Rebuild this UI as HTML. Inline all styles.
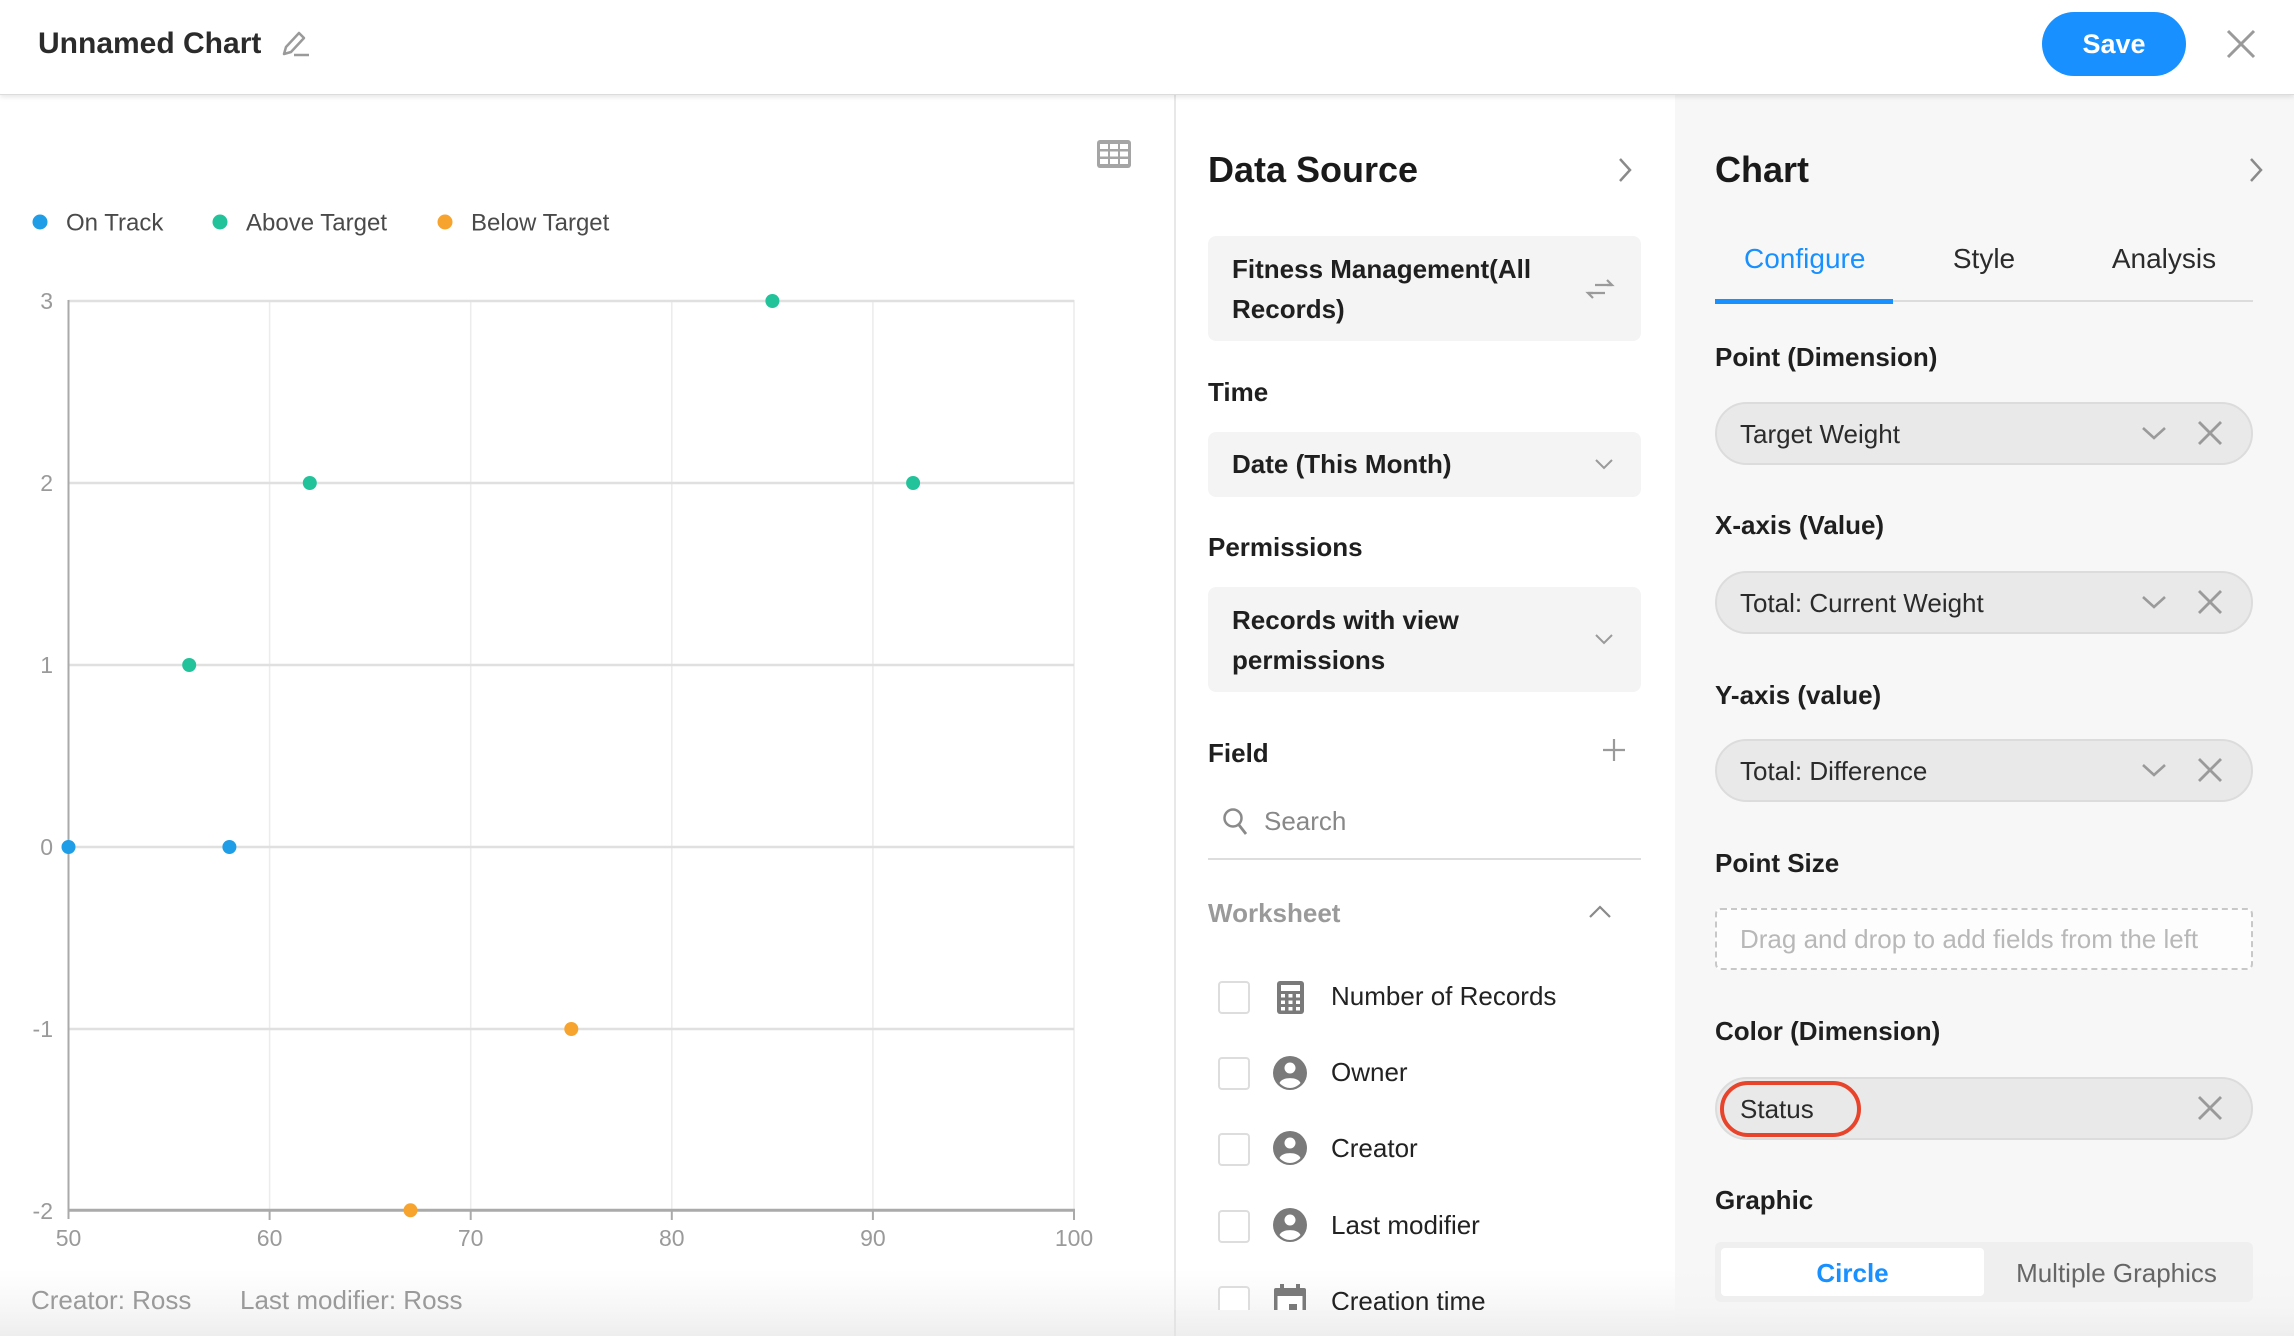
<!DOCTYPE html>
<html><head><meta charset="utf-8"><style>
html,body{margin:0;padding:0;}
body{width:2294px;height:1336px;overflow:hidden;position:relative;background:#fff;font-family:"Liberation Sans",Arial,sans-serif;}
.t{position:absolute;white-space:nowrap;line-height:1;}
.b{font-weight:bold;}
.hdr{position:absolute;left:0;top:0;width:2294px;height:94px;background:#fff;border-bottom:1px solid #dcdcdc;box-shadow:0 2px 5px rgba(0,0,0,0.10);z-index:5;}
.box{position:absolute;background:#f4f4f4;border-radius:8px;}
.pill{position:absolute;left:1715px;width:534px;height:59px;background:#e9e9e9;border:2px solid #dcdcdc;border-radius:32px;}
.ico{position:absolute;}
</style></head><body>

<!-- panels backgrounds -->
<div style="position:absolute;left:1675px;top:0;width:619px;height:1336px;background:#f7f7f7;"></div>
<!-- bottom background gradient (behind content) -->
<div style="position:absolute;left:0;top:1270px;width:2294px;height:66px;background:linear-gradient(to bottom, rgba(244,244,244,0) 0%, rgba(244,244,244,0.8) 60%, rgba(238,238,238,1) 100%);"></div>
<div style="position:absolute;left:1174px;top:94px;width:2px;height:1242px;background:#e8e8e8;"></div>

<!-- header -->
<div class="hdr">
  <div class="t b" style="left:38px;top:29px;font-size:30px;color:#2b2b2b;">Unnamed Chart</div>
  <svg class="ico" style="left:280px;top:30px" width="32" height="28" viewBox="0 0 32 28">
    <path d="M4 24 L6 17 L19 3 L24 8 L11 22 Z" fill="none" stroke="#9a9a9a" stroke-width="2.5" stroke-linejoin="round"/>
    <line x1="14" y1="25" x2="29" y2="25" stroke="#9a9a9a" stroke-width="2.5"/>
  </svg>
  <div style="position:absolute;left:2042px;top:12px;width:144px;height:64px;border-radius:32px;background:#1890ff;color:#fff;font-weight:bold;font-size:27px;display:flex;align-items:center;justify-content:center;">Save</div>
  <svg class="ico" style="left:2226px;top:29px" width="30" height="30" viewBox="0 0 30 30">
    <line x1="2" y1="2" x2="28" y2="28" stroke="#9a9a9a" stroke-width="3"/>
    <line x1="28" y1="2" x2="2" y2="28" stroke="#9a9a9a" stroke-width="3"/>
  </svg>
</div>

<!-- chart area -->
<svg class="ico" style="left:1097px;top:140px" width="34" height="28" viewBox="0 0 34 28">
  <rect x="0" y="0" width="34" height="28" rx="3" fill="#a5a5a5"/>
  <g fill="#fff">
    <rect x="3" y="4" width="8" height="5"/><rect x="13" y="4" width="8" height="5"/><rect x="23" y="4" width="8" height="5"/>
    <rect x="3" y="11.5" width="8" height="5"/><rect x="13" y="11.5" width="8" height="5"/><rect x="23" y="11.5" width="8" height="5"/>
    <rect x="3" y="19" width="8" height="5"/><rect x="13" y="19" width="8" height="5"/><rect x="23" y="19" width="8" height="5"/>
  </g>
</svg>

<svg style="position:absolute;left:0;top:0" width="1174" height="1336">
  <!-- legend -->
  <circle cx="40" cy="222" r="7.5" fill="#1f9de6"/>
  <circle cx="220" cy="222" r="7.5" fill="#22c39a"/>
  <circle cx="445" cy="222" r="7.5" fill="#f7a42f"/>
  <g font-family="Liberation Sans, Arial, sans-serif" font-size="24" fill="#4a4a4a">
    <text x="66" y="230.5">On Track</text>
    <text x="246" y="230.5">Above Target</text>
    <text x="471" y="230.5">Below Target</text>
  </g>
  <!-- vertical grid -->
  <g stroke="#ececec" stroke-width="1.5">
    <line x1="269.6" y1="300" x2="269.6" y2="1209"/>
    <line x1="470.7" y1="300" x2="470.7" y2="1209"/>
    <line x1="671.8" y1="300" x2="671.8" y2="1209"/>
    <line x1="872.9" y1="300" x2="872.9" y2="1209"/>
    <line x1="1074" y1="300" x2="1074" y2="1209"/>
  </g>
  <!-- horizontal grid -->
  <g stroke="#e0e0e0" stroke-width="2.5">
    <line x1="68.5" y1="301" x2="1074" y2="301"/>
    <line x1="68.5" y1="483" x2="1074" y2="483"/>
    <line x1="68.5" y1="665" x2="1074" y2="665"/>
    <line x1="68.5" y1="847" x2="1074" y2="847"/>
    <line x1="68.5" y1="1029" x2="1074" y2="1029"/>
  </g>
  <!-- axes -->
  <line x1="68.5" y1="300" x2="68.5" y2="1219" stroke="#aaaaaa" stroke-width="2"/>
  <line x1="67.5" y1="1210.3" x2="1075" y2="1210.3" stroke="#aaaaaa" stroke-width="3"/>
  <g stroke="#aaaaaa" stroke-width="2">
    <line x1="269.6" y1="1209" x2="269.6" y2="1220"/>
    <line x1="470.7" y1="1209" x2="470.7" y2="1220"/>
    <line x1="671.8" y1="1209" x2="671.8" y2="1220"/>
    <line x1="872.9" y1="1209" x2="872.9" y2="1220"/>
    <line x1="1074" y1="1209" x2="1074" y2="1220"/>
  </g>
  <!-- y labels -->
  <g font-family="Liberation Sans, Arial, sans-serif" font-size="23" fill="#9a9a9a" text-anchor="end">
    <text x="53" y="309">3</text>
    <text x="53" y="491">2</text>
    <text x="53" y="673">1</text>
    <text x="53" y="855">0</text>
    <text x="53" y="1037">-1</text>
    <text x="53" y="1219">-2</text>
  </g>
  <!-- x labels -->
  <g font-family="Liberation Sans, Arial, sans-serif" font-size="23" fill="#9a9a9a" text-anchor="middle">
    <text x="68.5" y="1246">50</text>
    <text x="269.6" y="1246">60</text>
    <text x="470.7" y="1246">70</text>
    <text x="671.8" y="1246">80</text>
    <text x="872.9" y="1246">90</text>
    <text x="1074" y="1246">100</text>
  </g>
  <!-- points -->
  <g fill="#1f9de6">
    <circle cx="68.5" cy="847" r="7"/>
    <circle cx="229.4" cy="847" r="7"/>
  </g>
  <g fill="#22c39a">
    <circle cx="189.2" cy="665" r="7"/>
    <circle cx="309.8" cy="483" r="7"/>
    <circle cx="772.4" cy="301" r="7"/>
    <circle cx="913.1" cy="483" r="7"/>
  </g>
  <g fill="#f7a42f">
    <circle cx="571.3" cy="1029" r="7"/>
    <circle cx="410.5" cy="1210.3" r="7"/>
  </g>
</svg>
<div class="t" style="left:31px;top:1287px;font-size:26px;color:#9a9a9a;">Creator: Ross</div>
<div class="t" style="left:240px;top:1287px;font-size:26px;color:#9a9a9a;">Last modifier: Ross</div>

<!-- Data Source panel -->
<div class="t b" style="left:1208px;top:152px;font-size:36px;color:#1a1a1a;">Data Source</div>
<svg class="ico" style="left:1617px;top:157px" width="16" height="26" viewBox="0 0 16 26">
  <polyline points="3,2 13,13 3,24" fill="none" stroke="#8a8a8a" stroke-width="2.5"/>
</svg>

<div class="box" style="left:1208px;top:236px;width:433px;height:105px;"></div>
<div class="t b" style="left:1232px;top:256px;font-size:26px;color:#1f1f1f;">Fitness Management(All</div>
<div class="t b" style="left:1232px;top:296px;font-size:26px;color:#1f1f1f;">Records)</div>
<svg class="ico" style="left:1585px;top:277px" width="30" height="24" viewBox="0 0 30 24">
  <g fill="none" stroke="#9a9a9a" stroke-width="2.2">
    <line x1="10" y1="8" x2="27" y2="8"/><polyline points="22,3 27,8 22,8"/>
    <line x1="3" y1="16" x2="20" y2="16"/><polyline points="8,21 3,16 8,16"/>
  </g>
</svg>

<div class="t b" style="left:1208px;top:379px;font-size:26px;color:#1f1f1f;">Time</div>
<div class="box" style="left:1208px;top:432px;width:433px;height:65px;"></div>
<div class="t b" style="left:1232px;top:451px;font-size:26px;color:#1f1f1f;">Date (This Month)</div>
<svg class="ico" style="left:1594px;top:458px" width="20" height="12" viewBox="0 0 20 12">
  <polyline points="2,2 10,10 18,2" fill="none" stroke="#9a9a9a" stroke-width="2"/>
</svg>

<div class="t b" style="left:1208px;top:534px;font-size:26px;color:#1f1f1f;">Permissions</div>
<div class="box" style="left:1208px;top:587px;width:433px;height:105px;"></div>
<div class="t b" style="left:1232px;top:607px;font-size:26px;color:#1f1f1f;">Records with view</div>
<div class="t b" style="left:1232px;top:647px;font-size:26px;color:#1f1f1f;">permissions</div>
<svg class="ico" style="left:1594px;top:633px" width="20" height="12" viewBox="0 0 20 12">
  <polyline points="2,2 10,10 18,2" fill="none" stroke="#9a9a9a" stroke-width="2"/>
</svg>

<div class="t b" style="left:1208px;top:740px;font-size:26px;color:#1f1f1f;">Field</div>
<svg class="ico" style="left:1602px;top:738px" width="24" height="24" viewBox="0 0 24 24">
  <line x1="12" y1="1" x2="12" y2="23" stroke="#9a9a9a" stroke-width="2.2"/>
  <line x1="1" y1="12" x2="23" y2="12" stroke="#9a9a9a" stroke-width="2.2"/>
</svg>
<svg class="ico" style="left:1222px;top:807px" width="28" height="30" viewBox="0 0 28 30">
  <circle cx="11" cy="11" r="8.5" fill="none" stroke="#8a8a8a" stroke-width="2.5"/>
  <line x1="17" y1="18" x2="24" y2="27" stroke="#8a8a8a" stroke-width="2.8"/>
</svg>
<div class="t" style="left:1264px;top:808px;font-size:26px;color:#888;">Search</div>
<div style="position:absolute;left:1208px;top:858px;width:433px;height:2px;background:#dddddd;"></div>

<div class="t b" style="left:1208px;top:900px;font-size:26px;color:#9a9a9a;">Worksheet</div>
<svg class="ico" style="left:1588px;top:905px" width="24" height="14" viewBox="0 0 24 14">
  <polyline points="2,12 12,2 22,12" fill="none" stroke="#8a8a8a" stroke-width="2.2"/>
</svg>

<!-- worksheet items -->
<div style="position:absolute;left:1218px;top:981px;width:28px;height:29px;border:2px solid #dddddd;border-radius:4px;background:#fff;"></div>
<svg class="ico" style="left:1277px;top:981px" width="27" height="33" viewBox="0 0 27 33">
  <rect x="0" y="0" width="27" height="33" rx="3" fill="#7a7a7a"/>
  <rect x="4" y="4" width="19" height="6" fill="#fff"/>
  <g fill="#fff">
    <rect x="4" y="13" width="4" height="3.5"/><rect x="11.5" y="13" width="4" height="3.5"/><rect x="19" y="13" width="4" height="3.5"/>
    <rect x="4" y="19.5" width="4" height="3.5"/><rect x="11.5" y="19.5" width="4" height="3.5"/><rect x="19" y="19.5" width="4" height="3.5"/>
    <rect x="4" y="26" width="4" height="3.5"/><rect x="11.5" y="26" width="4" height="3.5"/><rect x="19" y="26" width="4" height="3.5"/>
  </g>
</svg>
<div class="t" style="left:1331px;top:983px;font-size:26px;color:#222;">Number of Records</div>

<div style="position:absolute;left:1218px;top:1057px;width:28px;height:29px;border:2px solid #dddddd;border-radius:4px;background:#fff;"></div>
<svg class="ico" style="left:1273px;top:1056px" width="34" height="34" viewBox="0 0 34 34">
  <circle cx="17" cy="17" r="17" fill="#7a7a7a"/>
  <circle cx="17" cy="12" r="5.5" fill="#fff"/>
  <path d="M6.5 27 C9 20.5 25 20.5 27.5 27 C24.5 30.5 20 32 17 32 C14 32 9.5 30.5 6.5 27 Z" fill="#fff"/>
</svg>
<div class="t" style="left:1331px;top:1059px;font-size:26px;color:#222;">Owner</div>

<div style="position:absolute;left:1218px;top:1133px;width:28px;height:29px;border:2px solid #dddddd;border-radius:4px;background:#fff;"></div>
<svg class="ico" style="left:1273px;top:1131px" width="34" height="34" viewBox="0 0 34 34">
  <circle cx="17" cy="17" r="17" fill="#7a7a7a"/>
  <circle cx="17" cy="12" r="5.5" fill="#fff"/>
  <path d="M6.5 27 C9 20.5 25 20.5 27.5 27 C24.5 30.5 20 32 17 32 C14 32 9.5 30.5 6.5 27 Z" fill="#fff"/>
</svg>
<div class="t" style="left:1331px;top:1135px;font-size:26px;color:#222;">Creator</div>

<div style="position:absolute;left:1218px;top:1210px;width:28px;height:29px;border:2px solid #dddddd;border-radius:4px;background:#fff;"></div>
<svg class="ico" style="left:1273px;top:1208px" width="34" height="34" viewBox="0 0 34 34">
  <circle cx="17" cy="17" r="17" fill="#7a7a7a"/>
  <circle cx="17" cy="12" r="5.5" fill="#fff"/>
  <path d="M6.5 27 C9 20.5 25 20.5 27.5 27 C24.5 30.5 20 32 17 32 C14 32 9.5 30.5 6.5 27 Z" fill="#fff"/>
</svg>
<div class="t" style="left:1331px;top:1212px;font-size:26px;color:#222;">Last modifier</div>

<div style="position:absolute;left:1218px;top:1286px;width:28px;height:29px;border:2px solid #dddddd;border-radius:4px;background:#fff;"></div>
<svg class="ico" style="left:1274px;top:1284px" width="32" height="34" viewBox="0 0 32 34">
  <rect x="0" y="4" width="32" height="30" rx="2" fill="#7a7a7a"/>
  <rect x="6" y="0" width="4" height="7" fill="#7a7a7a"/><rect x="22" y="0" width="4" height="7" fill="#7a7a7a"/>
  <rect x="3.5" y="12" width="25" height="19" fill="#fff"/>
  <rect x="15" y="20" width="8" height="8" fill="#7a7a7a"/>
</svg>
<div class="t" style="left:1331px;top:1288px;font-size:26px;color:#222;">Creation time</div>

<!-- Chart panel -->
<div class="t b" style="left:1715px;top:152px;font-size:36px;color:#1a1a1a;">Chart</div>
<svg class="ico" style="left:2248px;top:157px" width="16" height="26" viewBox="0 0 16 26">
  <polyline points="3,2 13,13 3,24" fill="none" stroke="#8a8a8a" stroke-width="2.5"/>
</svg>
<div class="t" style="left:1744px;top:245px;font-size:28px;color:#1890ff;width:120px;text-align:center;">Configure</div>
<div class="t" style="left:1924px;top:245px;font-size:28px;color:#2b2b2b;width:120px;text-align:center;">Style</div>
<div class="t" style="left:2104px;top:245px;font-size:28px;color:#2b2b2b;width:120px;text-align:center;">Analysis</div>
<div style="position:absolute;left:1715px;top:300px;width:538px;height:2px;background:#dcdcdc;"></div>
<div style="position:absolute;left:1715px;top:299px;width:178px;height:5px;background:#1890ff;"></div>

<div class="t b" style="left:1715px;top:344px;font-size:26px;color:#1f1f1f;">Point (Dimension)</div>
<div class="pill" style="top:402px;"></div>
<div class="t" style="left:1740px;top:421px;font-size:26px;color:#2b2b2b;">Target Weight</div>

<div class="t b" style="left:1715px;top:512px;font-size:26px;color:#1f1f1f;">X-axis (Value)</div>
<div class="pill" style="top:571px;"></div>
<div class="t" style="left:1740px;top:590px;font-size:26px;color:#2b2b2b;">Total: Current Weight</div>

<div class="t b" style="left:1715px;top:682px;font-size:26px;color:#1f1f1f;">Y-axis (value)</div>
<div class="pill" style="top:739px;"></div>
<div class="t" style="left:1740px;top:758px;font-size:26px;color:#2b2b2b;">Total: Difference</div>

<div class="t b" style="left:1715px;top:850px;font-size:26px;color:#1f1f1f;">Point Size</div>
<div style="position:absolute;left:1715px;top:908px;width:534px;height:58px;border:2px dashed #c8c8c8;border-radius:6px;background:#fdfdfd;"></div>
<div class="t" style="left:1740px;top:926px;font-size:26px;color:#b8b8b8;">Drag and drop to add fields from the left</div>

<div class="t b" style="left:1715px;top:1018px;font-size:26px;color:#1f1f1f;">Color (Dimension)</div>
<div class="pill" style="top:1077px;"></div>
<div class="t" style="left:1740px;top:1096px;font-size:26px;color:#2b2b2b;">Status</div>
<div style="position:absolute;left:1720px;top:1081px;width:133px;height:48px;border:4px solid #e8432b;border-radius:28px;"></div>

<div class="t b" style="left:1715px;top:1187px;font-size:26px;color:#1f1f1f;">Graphic</div>
<div style="position:absolute;left:1715px;top:1242px;width:538px;height:60px;background:#efefef;border-radius:6px;"></div>
<div style="position:absolute;left:1721px;top:1248px;width:263px;height:48px;background:#fff;border-radius:4px;"></div>
<div class="t b" style="left:1721px;top:1260px;width:263px;text-align:center;font-size:26px;color:#1890ff;">Circle</div>
<div class="t" style="left:1984px;top:1260px;width:265px;text-align:center;font-size:26px;color:#666;">Multiple Graphics</div>

<!-- pill icons -->
<svg style="position:absolute;left:0;top:0" width="2294" height="1336" pointer-events="none">
  <g fill="none" stroke="#9a9a9a" stroke-width="2.6">
    <polyline points="2143,428 2154,438 2165,428"/>
    <polyline points="2143,597 2154,607 2165,597"/>
    <polyline points="2143,765 2154,775 2165,765"/>
  </g>
  <g stroke="#9a9a9a" stroke-width="2.8">
    <line x1="2199" y1="422" x2="2221" y2="444"/><line x1="2221" y1="422" x2="2199" y2="444"/>
    <line x1="2199" y1="591" x2="2221" y2="613"/><line x1="2221" y1="591" x2="2199" y2="613"/>
    <line x1="2199" y1="759" x2="2221" y2="781"/><line x1="2221" y1="759" x2="2199" y2="781"/>
    <line x1="2199" y1="1097" x2="2221" y2="1119"/><line x1="2221" y1="1097" x2="2199" y2="1119"/>
  </g>
</svg>

<!-- bottom clip band for data source list -->
<div style="position:absolute;left:1176px;top:1310px;width:499px;height:26px;background:linear-gradient(to bottom, rgba(245,245,245,1) 0%, rgba(238,238,238,1) 100%);"></div>
<div style="position:absolute;left:1174px;top:1310px;width:2px;height:26px;background:#e4e4e4;"></div>

</body></html>
